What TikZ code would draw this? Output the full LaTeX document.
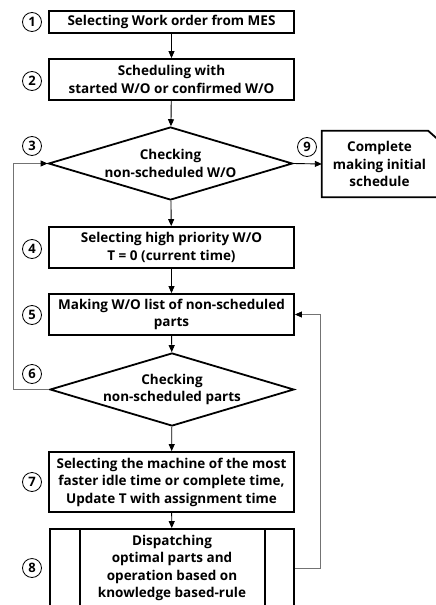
\documentclass[tikz,border=0pt]{standalone}
\usepackage{fontspec}
\setmainfont{Open Sans}
\usetikzlibrary{shapes.geometric,arrows.meta,calc}
\begin{document}
\begin{tikzpicture}[x=1pt,y=-1pt,
  txt/.style={align=center,inner sep=0pt,font=\bfseries\fontsize{13.5}{17.5}\selectfont},
  box/.style={txt,draw,line width=1.8pt,minimum width=245pt},
  dia/.style={txt,draw,diamond,line width=1.8pt,minimum width=244pt,minimum height=73pt,aspect=3.34},
  circ/.style={circle,draw,line width=0.8pt,minimum size=19pt,inner sep=0pt,font=\bfseries\fontsize{13}{13}\selectfont},
  arr/.style={line width=0.9pt,-{Triangle[length=7pt,width=6pt]}},
  back/.style={line width=0.9pt,draw=black!55,-{Triangle[length=7pt,width=6pt,color=black]}}]
\useasboundingbox (0,0) rectangle (436,605);
\clip (0,0) rectangle (436,605);
\fill[white] (0,0) rectangle (436,605);

\node[box,minimum height=22pt] (b1) at (171.5,22) {Selecting Work order from MES};
\node[box,minimum height=41pt] (b2) at (171.5,79.5) {Scheduling with\\started W/O or confirmed W/O};
\node[dia] (d3) at (170.5,163.5) {Checking\\non-scheduled W/O};
\node[box,minimum height=41pt] (b4) at (171.5,247.5) {Selecting high priority W/O\\T = 0 (current time)};
\node[box,minimum height=41pt] (b5) at (171.5,314.5) {Making W/O list of non-scheduled\\parts};
\node[dia] (d6) at (172,389.5) {Checking\\non-scheduled parts};
\node[box,minimum height=60pt] (b7) at (171.5,482) {Selecting the machine of the most\\faster idle time or complete time,\\Update T with assignment time};
\node[box,minimum height=78pt,minimum width=244pt] (b8) at (172,568) {Dispatching\\optimal parts and\\operation based on\\knowledge based-rule};
\draw[line width=1.8pt] ($(b8.north west)+(31,0)$) -- ($(b8.south west)+(31,0)$);
\draw[line width=1.8pt] ($(b8.north east)+(-30,0)$) -- ($(b8.south east)+(-30,0)$);

\node[txt,minimum width=115pt,minimum height=66pt] (b9) at (379.5,164) {Complete\\making initial\\schedule};
\draw[line width=1.8pt] (b9.north west) -- ($(b9.north east)+(-9,0)$) -- ($(b9.north east)+(0,8)$) -- (b9.south east) -- (b9.south west) -- cycle;

\node[circ] (c1) at (32,22) {1};
\node[circ] (c2) at (32,81) {2};
\node[circ] (c3) at (32,146) {3};
\node[circ] (c9) at (307,147) {9};
\node[circ] (c4) at (32,249) {4};
\node[circ] (c5) at (32,315) {5};
\node[circ] (c6) at (32,374) {6};
\node[circ] (c7) at (32,482) {7};
\node[circ] (c8) at (32,568) {8};

\draw[arr] (b1) -- (b2);
\draw[arr] (b2) -- (d3);
\draw[arr] (d3) -- (b4);
\draw[arr] (b4) -- (b5);
\draw[arr] (b5) -- (d6);
\draw[arr] (d6) -- (b7);
\draw[arr] (b7) -- (b8);
\draw[arr] (d3.east) -- (b9.west);
\draw[back] (d6.west) -- ++(-36,0) |- (d3.west);
\draw[back] (b8.east) -- ++(26,0) |- (b5.east);
\end{tikzpicture}
\end{document}
